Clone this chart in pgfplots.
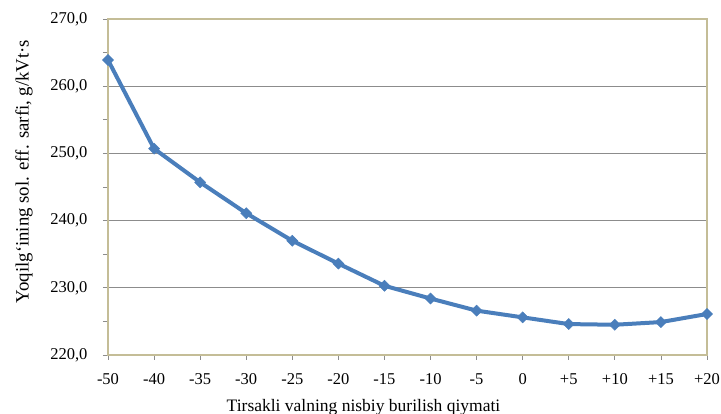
\documentclass[border=0pt]{standalone}
\usepackage{fontspec}
\setmainfont{Liberation Serif}
\usepackage{pgfplots}
\pgfplotsset{compat=1.18}
\definecolor{frame}{RGB}{196,189,151}
\definecolor{serie}{RGB}{74,126,187}
\definecolor{gridc}{RGB}{140,140,140}
\begin{document}
\begin{tikzpicture}[x=1pt,y=1pt]
\path[use as bounding box] (0,0) rectangle (721,414);
\begin{axis}[at={(108pt,59pt)}, anchor=south west, scale only axis,
  width=599pt, height=336pt,
  xmin=0, xmax=13, ymin=220, ymax=270,
  xtick={0,...,13},
  xticklabels={-50,-40,-35,-30,-25,-20,-15,-10,-5,0,+5,+10,+15,+20},
  ytick={220,230,...,270}, minor ytick={225,235,...,265},
  ymajorgrids, major grid style={gridc, line width=0.8pt},
  axis line style={frame, line width=1.4pt},
  tick style={gridc, line width=0.8pt}, tick align=outside,
  major tick length=5pt, minor tick length=5pt,
  xtick pos=bottom, ytick pos=left,
  every tick label/.append style={font=\fontsize{16.5}{16.5}\selectfont},
  every y tick label/.append style={anchor=east, xshift=-12pt},
  every x tick label/.append style={anchor=north, yshift=-10pt},
  /pgf/number format/.cd, use comma, fixed, fixed zerofill, precision=1, assume math mode=true,
]
\addplot[serie, line width=4pt, mark=square*, mark size=3.9pt,
  mark options={rotate=45, fill=serie, draw=serie, line width=0.5pt}]
  coordinates {
  (0,263.9) (1,250.7) (2,245.7) (3,241.1) (4,237.0) (5,233.6) (6,230.3)
  (7,228.4) (8,226.6) (9,225.6) (10,224.6) (11,224.5) (12,224.9) (13,226.1)
  };
\end{axis}
\node[anchor=base, font=\fontsize{17.5}{17.5}\selectfont] at (363.5,2.5) {Tirsakli valning nisbiy burilish qiymati};
\node[rotate=90, font=\fontsize{18.8}{18.8}\selectfont] at (24,242.5) {Yoqilg‘ining sol. eff. sarfi, g/kVt·s};
\end{tikzpicture}
\end{document}
